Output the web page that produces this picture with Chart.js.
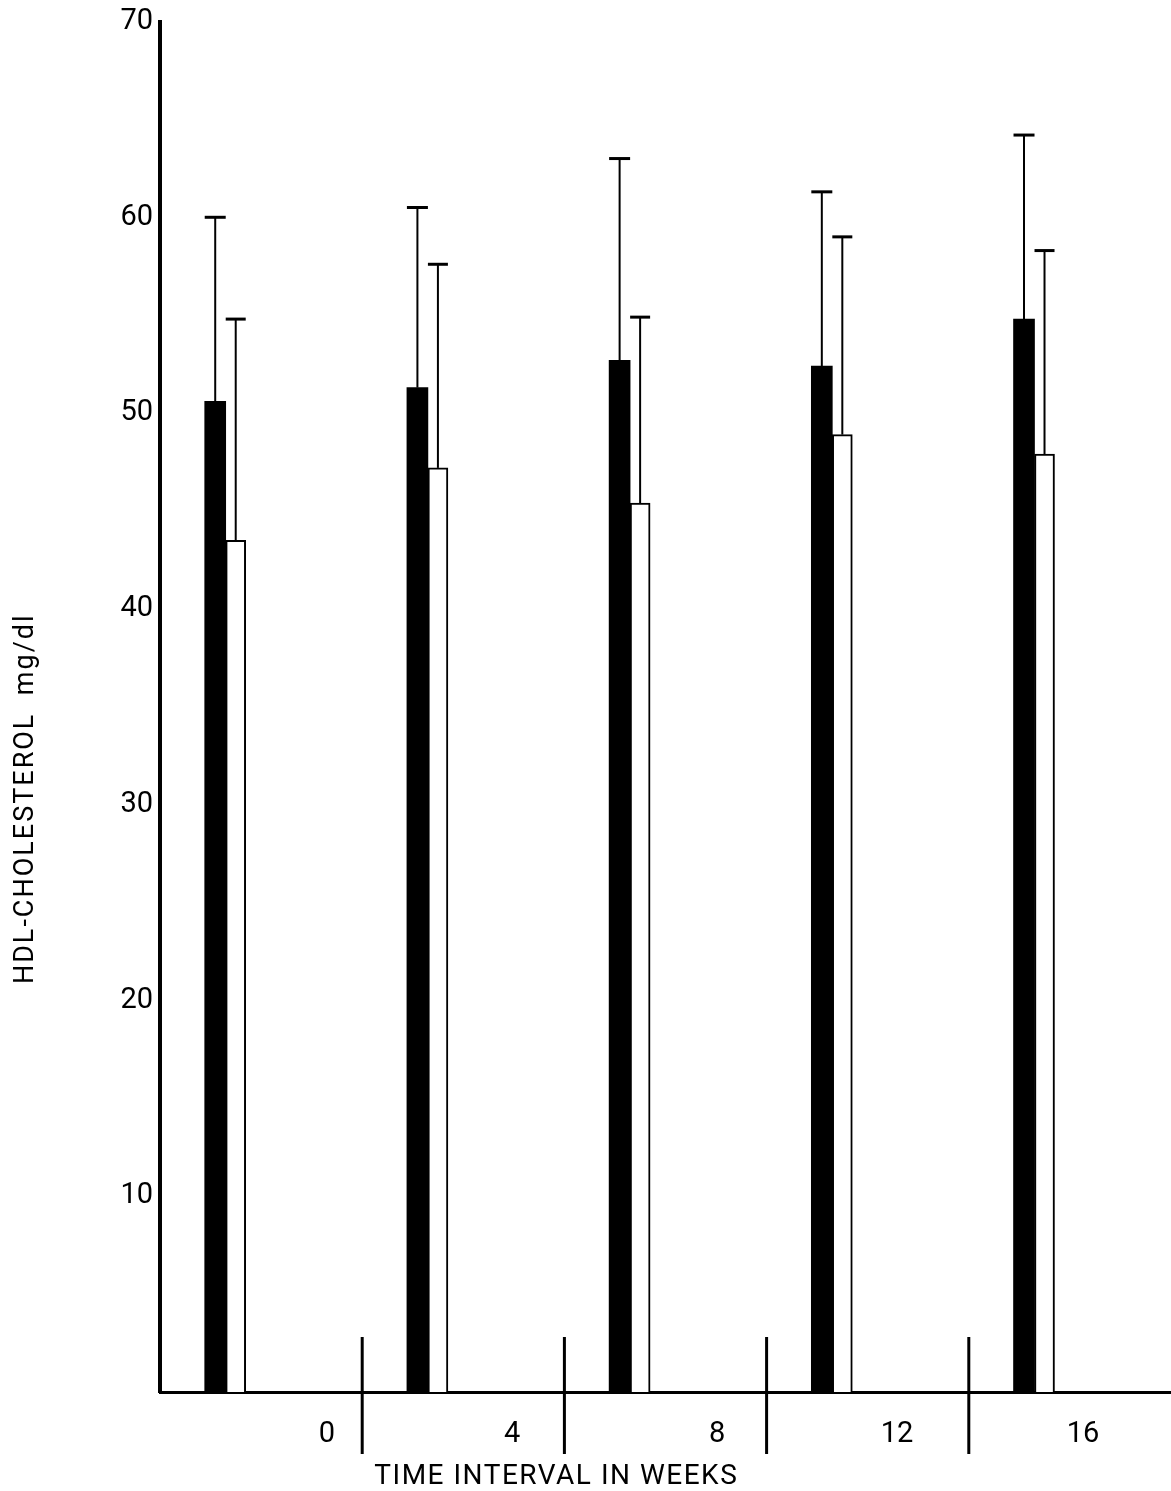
<!DOCTYPE html>
<html>
<head>
<meta charset="utf-8">
<script src="https://cdn.jsdelivr.net/npm/chart.js@4/dist/chart.umd.min.js"></script>
<style>
  html, body { margin: 0; padding: 0; background: #fff; }
  #wrap { width: 1171px; height: 1491px; }
</style>
</head>
<body>
<div id="wrap"><canvas id="hdlChart" width="1171" height="1491"></canvas></div>
<script>
// data
const weekLabels = ["0", "4", "8", "12", "16"];
const weekTickPos = [0.826, 1.741, 2.755, 3.645, 4.565];  // where the week labels sit on the x axis
const groupX = [0.325, 1.325, 2.325, 3.325, 4.325];        // bar group positions on the x axis
const separators = [1, 2, 3, 4];

const blackMeans = [50.6, 51.3, 52.7, 52.4, 54.8];
const blackSD = [9.4, 9.2, 10.3, 8.9, 9.4];
const whiteMeans = [43.5, 47.2, 45.4, 48.9, 47.9];
const whiteSD = [11.3, 10.4, 9.5, 10.1, 10.4];

const yTicks = [0, 10, 20, 30, 40, 50, 60, 70];
const yTitle = "HDL-CHOLESTEROL  mg/dl";
const xTitle = "TIME INTERVAL IN WEEKS";

const FONT = "Roboto, 'DejaVu Sans', sans-serif";

// error bars (upward only, with cap)
const errorBars = {
  id: "errorBars",
  afterDatasetsDraw(chart) {
    const ctx = chart.ctx;
    const y = chart.scales.y;
    chart.data.datasets.forEach((ds, i) => {
      const meta = chart.getDatasetMeta(i);
      meta.data.forEach((bar, j) => {
        const top = y.getPixelForValue(ds.data[j].y + ds.sd[j]);
        ctx.save();
        ctx.strokeStyle = "#000";
        ctx.lineWidth = 2;
        ctx.beginPath();
        ctx.moveTo(bar.x, bar.y);
        ctx.lineTo(bar.x, top);
        ctx.stroke();
        ctx.lineWidth = 3;
        ctx.beginPath();
        ctx.moveTo(bar.x - bar.width / 2, top);
        ctx.lineTo(bar.x + bar.width / 2, top);
        ctx.stroke();
        ctx.restore();
      });
    });
  }
};

// vertical separators across the x axis + axis titles
const axisDecor = {
  id: "axisDecor",
  afterDraw(chart) {
    const ctx = chart.ctx;
    const x = chart.scales.x, y = chart.scales.y;
    const base = y.getPixelForValue(0);
    ctx.save();
    ctx.strokeStyle = "#000";
    ctx.lineWidth = 3;
    separators.forEach(v => {
      const px = x.getPixelForValue(v);
      ctx.beginPath();
      ctx.moveTo(px, base - 55);
      ctx.lineTo(px, base + 62);
      ctx.stroke();
    });

    ctx.fillStyle = "#000";
    ctx.textAlign = "center";
    ctx.textBaseline = "middle";
    ctx.font = "28px " + FONT;
    ctx.letterSpacing = "1.5px";
    ctx.fillText(xTitle, x.getPixelForValue(1.96), base + 85);

    ctx.font = "27px " + FONT;
    ctx.letterSpacing = "2px";
    ctx.translate(26, y.getPixelForValue(30.3));
    ctx.rotate(-Math.PI / 2);
    ctx.fillText(yTitle, 0, 0);
    ctx.restore();
  }
};

const canvas = document.getElementById("hdlChart");

new Chart(canvas, {
  type: "bar",
  data: {
    datasets: [
      {
        label: "black",
        data: groupX.map((gx, i) => ({ x: gx, y: blackMeans[i] })),
        sd: blackSD,
        backgroundColor: "#000",
        borderColor: "#000",
        borderWidth: 0,
        barThickness: 21
      },
      {
        label: "white",
        data: groupX.map((gx, i) => ({ x: gx, y: whiteMeans[i] })),
        sd: whiteSD,
        backgroundColor: "#fff",
        borderColor: "#000",
        borderWidth: 2,
        barThickness: 20
      }
    ]
  },
  options: {
    responsive: false,
    animation: false,
    devicePixelRatio: 1,
    layout: { padding: { top: 13, right: 0, bottom: 0, left: 0 } },
    plugins: {
      legend: { display: false },
      tooltip: { enabled: false }
    },
    scales: {
      x: {
        type: "linear",
        min: 0,
        max: 5,
        offset: false,
        z: 1,
        grid: { display: false, drawTicks: false },
        border: { display: true, color: "#000", width: 3 },
        afterBuildTicks: (scale) => {
          scale.ticks = weekTickPos.map(v => ({ value: v }));
        },
        afterFit: (scale) => { scale.height = 99; },
        ticks: {
          autoSkip: false,
          maxRotation: 0,
          padding: 28,
          color: "#000",
          font: { family: FONT, size: 29, lineHeight: 1 },
          callback: (v, i) => weekLabels[i]
        }
      },
      y: {
        min: 0,
        max: 70,
        grid: { display: false, drawTicks: false },
        border: { display: true, color: "#000", width: 4 },
        afterBuildTicks: (scale) => {
          scale.ticks = yTicks.map(v => ({ value: v }));
        },
        afterFit: (scale) => { scale.width = 160; },
        ticks: {
          padding: 7,
          color: "#000",
          font: { family: FONT, size: 29, lineHeight: 1 },
          callback: v => (v === 0 ? "" : v)
        }
      }
    }
  },
  plugins: [errorBars, axisDecor]
});
</script>
</body>
</html>
